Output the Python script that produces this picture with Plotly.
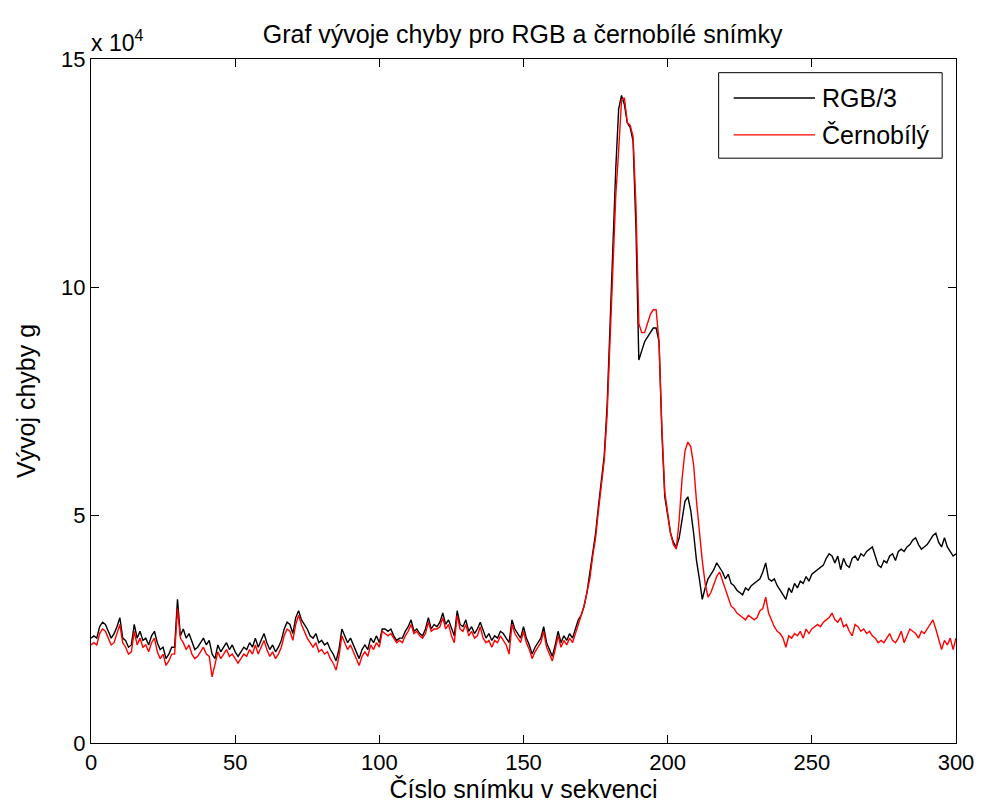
import plotly.graph_objects as go

frames = list(range(0, 301))

# values in units of 1e4
rgb3 = [
2.3,2.35,2.3,2.55,2.65,2.6,2.45,2.3,2.4,2.55,
2.75,2.3,2.25,2.1,2.15,2.6,2.3,2.45,2.25,2.3,
2.15,2.35,2.45,2.2,2.05,2.1,1.85,1.95,2.1,2.1,
3.15,2.35,2.5,2.3,2.4,2.2,2.05,2.1,2.2,2.3,
2.15,2.25,1.95,1.85,2.15,2.0,2.1,2.2,2.05,2.15,
2.0,1.9,2.0,2.1,2.05,2.2,2.1,2.3,2.1,2.25,
2.4,2.2,2.05,2.15,2.0,2.1,2.25,2.5,2.65,2.6,
2.4,2.75,2.9,2.7,2.6,2.5,2.35,2.3,2.4,2.2,
2.25,2.15,2.2,2.05,1.95,1.8,2.05,2.5,2.35,2.2,
2.3,2.15,2.0,1.85,2.05,2.15,2.05,2.3,2.2,2.35,
2.2,2.5,2.5,2.45,2.5,2.35,2.25,2.3,2.3,2.45,
2.55,2.7,2.45,2.5,2.4,2.35,2.5,2.75,2.5,2.6,
2.55,2.65,2.85,2.6,2.7,2.5,2.35,2.9,2.6,2.55,
2.7,2.45,2.55,2.4,2.5,2.65,2.45,2.3,2.4,2.25,
2.35,2.3,2.45,2.4,2.3,2.2,2.7,2.5,2.4,2.3,
2.55,2.3,2.15,1.95,2.1,2.2,2.3,2.55,2.2,2.05,
1.9,2.15,2.45,2.2,2.35,2.25,2.4,2.3,2.5,2.7,
2.8,3.0,3.3,3.7,4.2,4.6,5.2,5.7,6.3,7.4,
9.2,11.0,12.6,13.9,14.2,14.0,13.6,13.5,13.2,11.3,
8.4,8.6,8.8,8.9,9.0,9.1,9.1,8.8,6.8,5.4,
5.0,4.6,4.4,4.3,4.5,4.9,5.3,5.4,5.1,4.6,
4.0,3.6,3.15,3.4,3.6,3.7,3.8,3.95,3.85,3.75,
3.6,3.7,3.5,3.45,3.35,3.3,3.25,3.4,3.35,3.45,
3.5,3.55,3.6,3.75,3.95,3.6,3.55,3.6,3.45,3.35,
3.25,3.15,3.4,3.3,3.5,3.4,3.55,3.5,3.65,3.55,
3.7,3.75,3.8,3.85,3.9,4.05,4.15,4.1,3.95,4.1,
3.8,4.05,3.9,3.85,4.05,4.1,4.0,4.15,4.1,4.2,
4.25,4.3,4.1,3.9,3.85,4.0,3.95,4.1,4.15,4.0,
4.2,4.25,4.2,4.3,4.35,4.45,4.5,4.35,4.25,4.3,
4.35,4.45,4.55,4.6,4.4,4.3,4.5,4.3,4.2,4.1,
4.15,
]

bw = [
2.15,2.2,2.15,2.4,2.5,2.45,2.3,2.15,2.2,2.4,
2.6,2.2,2.1,1.95,2.0,2.45,2.15,2.3,2.1,2.15,
2.0,2.2,2.3,2.0,1.85,1.95,1.7,1.8,1.95,1.95,
2.95,2.3,2.2,2.05,2.15,1.95,1.85,1.9,2.0,2.1,
1.95,1.9,1.45,1.7,2.0,1.85,1.95,2.05,1.9,1.95,
1.85,1.75,1.85,1.95,1.9,2.05,1.95,2.15,1.95,2.1,
2.25,2.05,1.9,2.0,1.85,1.95,2.1,2.35,2.5,2.45,
2.25,2.6,2.8,2.6,2.45,2.3,2.2,2.1,2.2,2.0,
2.05,1.95,2.0,1.85,1.75,1.6,1.9,2.35,2.2,2.05,
2.15,2.0,1.85,1.7,1.9,2.0,1.9,2.15,2.05,2.2,
2.1,2.45,2.4,2.35,2.4,2.3,2.2,2.25,2.2,2.35,
2.45,2.6,2.4,2.45,2.35,2.3,2.4,2.65,2.45,2.5,
2.5,2.55,2.75,2.5,2.6,2.35,2.2,2.8,2.5,2.45,
2.6,2.35,2.45,2.3,2.35,2.55,2.3,2.2,2.25,2.1,
2.25,2.2,2.35,2.25,2.15,1.95,2.6,2.4,2.3,2.2,
2.45,2.2,2.05,1.85,2.0,2.1,2.2,2.45,2.1,1.95,
1.8,2.05,2.35,2.1,2.25,2.15,2.3,2.2,2.4,2.6,
2.75,3.0,3.3,3.6,4.1,4.5,5.1,5.6,6.2,7.2,
8.9,10.6,12.0,13.0,14.1,14.15,13.6,13.55,13.3,11.8,
9.2,9.0,9.0,9.2,9.4,9.5,9.5,8.8,6.9,5.5,
5.0,4.6,4.35,4.25,4.9,5.8,6.4,6.6,6.5,6.1,
5.3,4.6,4.0,3.5,3.2,3.3,3.5,3.65,3.75,3.55,
3.4,3.2,3.0,2.95,2.85,2.8,2.75,2.7,2.8,2.75,
2.7,2.75,2.9,2.95,3.2,2.85,2.7,2.55,2.45,2.4,
2.3,2.1,2.35,2.3,2.4,2.35,2.45,2.3,2.5,2.4,
2.5,2.55,2.6,2.55,2.65,2.7,2.75,2.85,2.7,2.65,
2.75,2.55,2.6,2.45,2.35,2.6,2.55,2.45,2.5,2.4,
2.45,2.35,2.3,2.2,2.25,2.2,2.3,2.4,2.25,2.2,
2.3,2.45,2.2,2.35,2.5,2.45,2.4,2.3,2.45,2.4,
2.5,2.6,2.7,2.5,2.3,2.05,2.25,2.15,2.3,2.05,
2.3,
]

x_ticks = [0, 50, 100, 150, 200, 250, 300]
y_ticks = [0, 5, 10, 15]
series_names = ["RGB/3", "Černobílý"]
series_colors = ["#000000", "#ff0000"]

FONT = "Liberation Sans"

fig = go.Figure()
fig.add_trace(go.Scatter(x=frames, y=rgb3, mode="lines", name=series_names[0],
                         line=dict(color=series_colors[0], width=1.4), showlegend=False))
fig.add_trace(go.Scatter(x=frames, y=bw, mode="lines", name=series_names[1],
                         line=dict(color=series_colors[1], width=1.4), showlegend=False))

axis_common = dict(showgrid=False, zeroline=False, showline=True, linecolor="black",
                   linewidth=1, mirror="ticks", ticks="inside", ticklen=8,
                   tickcolor="black", tickwidth=1,
                   tickfont=dict(family=FONT, size=22, color="black"))

fig.update_layout(
    width=986, height=812,
    margin=dict(l=91, r=24, t=59, b=69),
    paper_bgcolor="white", plot_bgcolor="white",
    title=dict(text="Graf vývoje chyby pro RGB a černobílé snímky",
               x=0.530, xanchor="center", y=0.958, yanchor="middle",
               font=dict(family=FONT, size=25, color="black")),
    xaxis=dict(range=[0, 300], tickvals=x_ticks, ticktext=[str(v) for v in x_ticks],
               title=dict(text="Číslo snímku v sekvenci", standoff=5,
                          font=dict(family=FONT, size=25, color="black")),
               **axis_common),
    yaxis=dict(range=[0, 15], tickvals=y_ticks, ticktext=[str(v) for v in y_ticks],
               title=dict(text="Vývoj chyby g", standoff=18,
                          font=dict(family=FONT, size=25, color="black")),
               **axis_common),
    showlegend=False,
)

# exponent label
fig.add_annotation(xref="paper", yref="paper", x=0.0, y=1.0, xanchor="left", yanchor="bottom",
                   text="x 10<sup>4</sup>", showarrow=False, xshift=-2, yshift=1,
                   font=dict(family=FONT, size=23, color="black"))

# manual legend (MATLAB style)
lx0, lx1, ly0, ly1 = 0.7256, 0.984, 0.855, 0.980
fig.add_shape(type="rect", xref="paper", yref="paper", x0=lx0, x1=lx1, y0=ly0, y1=ly1,
              line=dict(color="black", width=1), fillcolor="white", layer="above")
rows_y = [0.943, 0.889]
for name, col, yy in zip(series_names, series_colors, rows_y):
    fig.add_shape(type="line", xref="paper", yref="paper", x0=0.743, x1=0.837, y0=yy, y1=yy,
                  line=dict(color=col, width=1.4), layer="above")
    fig.add_annotation(xref="paper", yref="paper", x=0.843, y=yy, xanchor="left", yanchor="middle",
                       text=name, showarrow=False,
                       font=dict(family=FONT, size=25, color="black"))

fig.write_html("out.html")
